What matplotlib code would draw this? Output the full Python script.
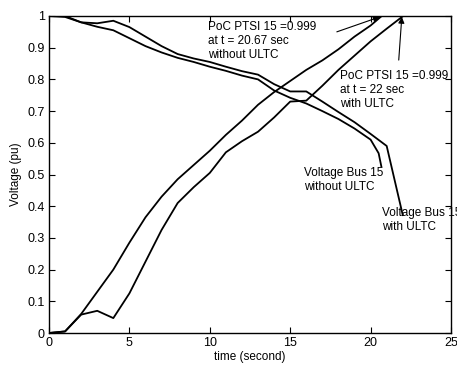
import matplotlib
matplotlib.use("Agg")
import matplotlib.pyplot as plt

plt.rcParams['font.family'] = ['Liberation Sans', 'DejaVu Sans']

# PTSI at bus 15 (rising curves)
t_ptsi_wo = [0, 1, 2, 3, 4, 5, 6, 7, 8, 9, 10, 11, 12, 13, 14, 15, 16, 17, 18, 19, 20, 20.67]
ptsi_wo = [0, 0.005, 0.06, 0.13, 0.2, 0.285, 0.365, 0.43, 0.485, 0.53, 0.575, 0.625,
           0.67, 0.72, 0.76, 0.795, 0.83, 0.86, 0.895, 0.935, 0.97, 0.999]
t_ptsi_w = [0, 1, 2, 3, 4, 5, 6, 7, 8, 9, 10, 11, 12, 13, 14, 15, 16, 17, 18, 19, 20, 21, 22]
ptsi_w = [0, 0.005, 0.058, 0.07, 0.047, 0.125, 0.225, 0.325, 0.41, 0.46, 0.505, 0.57,
          0.605, 0.635, 0.68, 0.73, 0.733, 0.78, 0.83, 0.875, 0.92, 0.96, 0.999]

# Voltage at bus 15 (falling curves)
t_v_wo = [0, 1, 2, 3, 4, 5, 6, 7, 8, 9, 10, 11, 12, 13, 14, 15, 16, 17, 18, 19, 20, 20.5, 20.67]
v_wo = [1, 0.997, 0.98, 0.966, 0.955, 0.93, 0.905, 0.885, 0.868, 0.855, 0.84, 0.827,
        0.812, 0.8, 0.765, 0.742, 0.724, 0.7, 0.675, 0.645, 0.61, 0.567, 0.525]
t_v_w = [0, 1, 2, 3, 4, 5, 6, 7, 8, 9, 10, 11, 12, 13, 14, 15, 16, 17, 18, 19, 20, 21, 22]
v_w = [1, 1, 0.98, 0.977, 0.985, 0.965, 0.935, 0.905, 0.88, 0.866, 0.855, 0.84,
       0.826, 0.815, 0.785, 0.762, 0.762, 0.73, 0.697, 0.665, 0.628, 0.59, 0.372]

xticks = [0, 5, 10, 15, 20, 25]
yticks = [0, 0.1, 0.2, 0.3, 0.4, 0.5, 0.6, 0.7, 0.8, 0.9, 1]
ylabels = ['0', '0.1', '0.2', '0.3', '0.4', '0.5', '0.6', '0.7', '0.8', '0.9', '1']

fig = plt.figure(figsize=(4.57, 3.65), dpi=100)
ax = fig.add_axes([49/457, 1-333/365, (451-49)/457, (333-16)/365])

lw = 1.3
ax.plot(t_ptsi_wo, ptsi_wo, color='k', lw=lw)
ax.plot(t_ptsi_w, ptsi_w, color='k', lw=lw)
ax.plot(t_v_wo, v_wo, color='k', lw=lw)
ax.plot(t_v_w, v_w, color='k', lw=lw)

ax.set_xlim(0, 25)
ax.set_ylim(0, 1)
ax.set_xticks(xticks)
ax.set_yticks(yticks)
ax.set_yticklabels(ylabels)
ax.tick_params(direction='in', length=4, width=0.8, top=True, right=True,
               labelsize=9, pad=3)
for s in ax.spines.values():
    s.set_linewidth(1.0)

ax.set_xlabel('time (second)', fontsize=8.5, labelpad=1)
ax.set_ylabel('Voltage (pu)', fontsize=8.5, labelpad=4)

fs = 8.5
ax.text(9.875, 0.985, 'PoC PTSI 15 =0.999\nat t = 20.67 sec\nwithout ULTC',
        fontsize=fs, ha='left', va='top', linespacing=1.25)
ax.text(18.125, 0.83, 'PoC PTSI 15 =0.999\nat t = 22 sec\nwith ULTC',
        fontsize=fs, ha='left', va='top', linespacing=1.25, clip_on=False)
ax.text(15.875, 0.525, 'Voltage Bus 15\nwithout ULTC',
        fontsize=fs, ha='left', va='top', linespacing=1.25)
ax.text(20.69, 0.397, 'Voltage Bus 15\nwith ULTC',
        fontsize=fs, ha='left', va='top', linespacing=1.25, clip_on=False)

arrow = dict(arrowstyle='-|>', color='k', lw=0.8, mutation_scale=9, shrinkA=0, shrinkB=0)
ax.annotate('', xy=(20.56, 0.997), xytext=(17.9, 0.95), arrowprops=arrow)
ax.annotate('', xy=(21.94, 0.997), xytext=(21.75, 0.861), arrowprops=arrow)

fig.savefig('out.png', dpi=100)
